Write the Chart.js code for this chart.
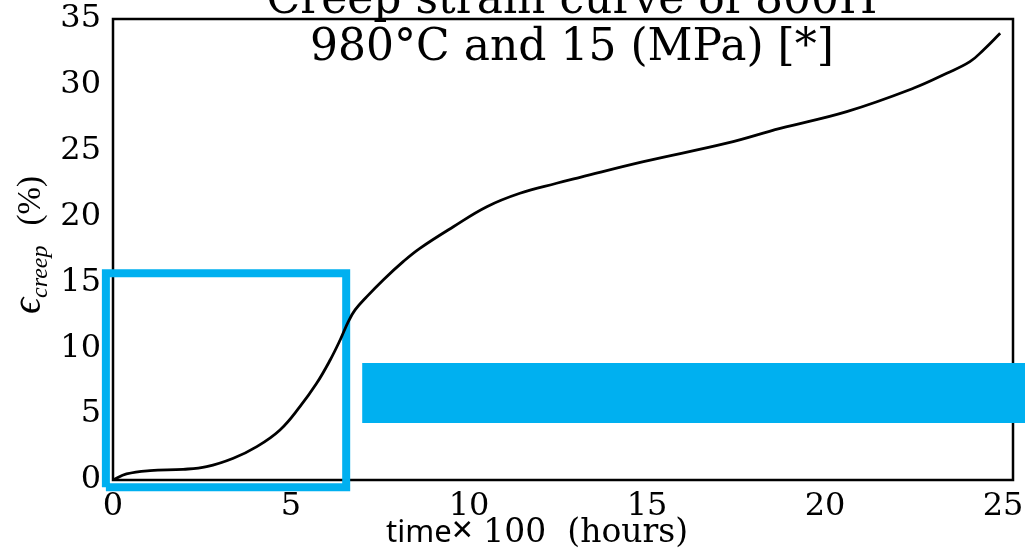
<!DOCTYPE html>
<html>
<head>
<meta charset="utf-8">
<script src="https://cdn.jsdelivr.net/npm/chart.js@4"></script>
<style>
  body { margin: 0; background: #fff; }
</style>
</head>
<body>
<canvas id="chart" width="1025" height="551"></canvas>
<script>
const chartPlace = document.getElementById("chart");

// creep curve (time x 100 h, strain %)
const timeVals = [0, 0.38, 1.04, 1.97, 2.63, 3.38, 4.04, 4.69, 5.25, 5.72, 6.10, 6.38, 6.61, 6.80, 7.13, 7.59, 8.15, 8.62, 9.56, 10.50, 11.43, 12.46, 13.12, 14.90, 17.24, 18.74, 20.61, 22.48, 23.42, 24.07, 24.45, 24.92];
const strainVals = [0, 0.46, 0.71, 0.81, 1.01, 1.65, 2.53, 3.80, 5.57, 7.34, 9.11, 10.63, 12.02, 12.91, 13.92, 15.19, 16.58, 17.59, 19.23, 20.75, 21.77, 22.53, 22.98, 24.17, 25.57, 26.70, 27.97, 29.74, 30.88, 31.76, 32.65, 33.92];

// blue highlight box and blue band
const boxX = [-0.2, 6.55, 6.55, -0.2, -0.2];
const boxY = [-0.55, -0.55, 15.7, 15.7, -0.55];
const bandX = [7.0, 26.6];
const bandY = [6.6, 6.6];

const xTicks = [0, 5, 10, 15, 20, 25];
const yTicks = [0, 5, 10, 15, 20, 25, 30, 35];

const titleLines = ["Creep strain curve of 800H", "980°C and 15 (MPa) [*]"];

const blue = "#00B0F0";
const serif = '"DejaVu Serif"';

function toPoints(xs, ys) {
	return xs.map((x, i) => ({ x: x, y: ys[i] }));
}

const textPlugin = {
	id: "texts",
	beforeDatasetsDraw(chart) {
		const ctx = chart.ctx;
		const a = chart.chartArea;
		ctx.save();
		ctx.strokeStyle = "#000";
		ctx.lineWidth = 2.5;
		ctx.strokeRect(a.left, a.top, a.right - a.left, a.bottom - a.top);
		ctx.restore();
	},
	afterDraw(chart) {
		const ctx = chart.ctx;
		ctx.save();
		ctx.fillStyle = "#000";
		ctx.textBaseline = "alphabetic";

		// title
		ctx.textAlign = "center";
		ctx.font = "44px " + serif;
		titleLines.forEach((t, i) => ctx.fillText(t, 572, 13 + i * 47));

		// x title: "time×" in sans, rest in serif
		ctx.textAlign = "left";
		let x = 386;
		ctx.font = '31px "Noto Sans"';
		ctx.fillText("time", x, 542);
		x += ctx.measureText("time").width;
		ctx.font = '37px "Noto Sans"';
		ctx.fillText("×", x, 542);
		x += ctx.measureText("×").width;
		ctx.font = "33px " + serif;
		ctx.fillText(" 100  (hours)", x, 542);

		// y title, rotated
		ctx.translate(40, 314);
		ctx.rotate(-Math.PI / 2);
		let p = 0;
		ctx.font = 'italic 40px "Liberation Serif"';
		ctx.fillText("ϵ", p, 0);
		p += ctx.measureText("ϵ").width;
		ctx.font = 'italic 24px "Liberation Serif"';
		ctx.fillText("creep", p, 7);
		p += ctx.measureText("creep").width + 20;
		ctx.font = '33px "Liberation Serif"';
		ctx.fillText("(%)", p, 0);
		ctx.restore();
	},
};

const theChart = new Chart(chartPlace, {
	type: "line",
	data: {
		datasets: [
			{
				label: "creep",
				data: toPoints(timeVals, strainVals),
				borderColor: "#000",
				borderWidth: 2.8,
				pointRadius: 0,
				tension: 0.4,
				fill: false,
				order: 0,
			},
			{
				label: "box",
				data: toPoints(boxX, boxY),
				borderColor: blue,
				borderWidth: 8,
				borderJoinStyle: "miter",
				pointRadius: 0,
				tension: 0,
				fill: false,
				clip: false,
				order: 1,
			},
			{
				label: "band",
				data: toPoints(bandX, bandY),
				borderColor: blue,
				borderWidth: 60,
				borderCapStyle: "butt",
				pointRadius: 0,
				tension: 0,
				fill: false,
				clip: false,
				order: 2,
			},
		],
	},
	options: {
		responsive: false,
		animation: false,
		layout: {
			padding: { left: 0, right: 12, top: 19, bottom: 0 },
		},
		plugins: {
			legend: { display: false },
			tooltip: { enabled: false },
			title: { display: false },
		},
		scales: {
			x: {
				type: "linear",
				min: 0,
				max: 25.28,
				grid: { display: false, drawTicks: false },
				border: { display: false },
				afterFit: (scale) => {
					scale.height = 71;
					scale.paddingLeft = 0;
					scale.paddingRight = 0;
				},
				afterBuildTicks: (scale) => { scale.ticks = xTicks.map((v) => ({ value: v })); },
				ticks: {
					color: "#000",
					padding: 7,
					maxRotation: 0,
					font: { family: "DejaVu Serif", size: 32 },
				},
			},
			y: {
				type: "linear",
				min: 0,
				max: 35,
				grid: { display: false, drawTicks: false },
				border: { display: false },
				afterFit: (scale) => {
					scale.width = 113;
					scale.paddingTop = 0;
					scale.paddingBottom = 0;
				},
				afterBuildTicks: (scale) => { scale.ticks = yTicks.map((v) => ({ value: v })); },
				ticks: {
					color: "#000",
					padding: 12,
					font: { family: "DejaVu Serif", size: 32 },
				},
			},
		},
	},
	plugins: [textPlugin],
});
</script>
</body>
</html>
